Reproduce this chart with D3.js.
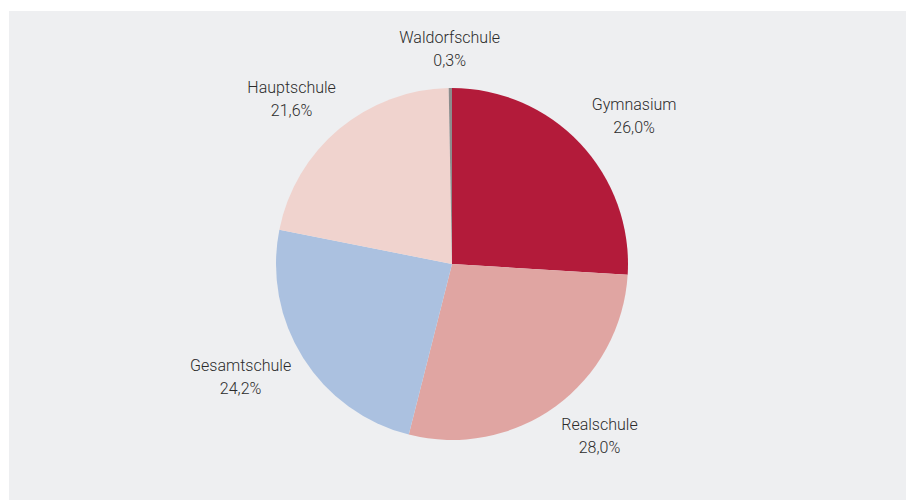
<!DOCTYPE html>
<html>
<head>
<meta charset="utf-8">
<script src="https://cdn.jsdelivr.net/npm/d3@7"></script>
<style>
  body { margin: 0; background: #fff; }
  text { font-family: Roboto, "Noto Sans", sans-serif; font-size: 16px; font-weight: 300; fill: #2b2b2b; }
</style>
</head>
<body>
<div id="content"></div>
<script>
// Schulformen, im Uhrzeigersinn ab 12 Uhr
const categories = ['Gymnasium', 'Realschule', 'Gesamtschule', 'Hauptschule', 'Waldorfschule'];
const shares = [26.0, 28.0, 24.2, 21.6, 0.3];
const colors = ['#b31b3a', '#e0a5a2', '#abc1e0', '#f0d3ce', '#8c8c8c'];

var width = 906;
var height = 500;
var cx = 452, cy = 264;
var radius = 176;

var fmt = d3.format('.1f');

var svg = d3.select('#content')
.append('svg')
.attr('width', width)
.attr('height', height);

svg.append('rect')
.attr('x', 9)
.attr('y', 11)
.attr('width', width - 9)
.attr('height', height - 11)
.attr('fill', '#eeeff1');

var data = categories.map(function (c, i) {return {name: c, value: shares[i], color: colors[i]}});

var pie = d3.pie()
.sort(null)
.value(function (d) {return d.value});

var arc = d3.arc()
.innerRadius(0)
.outerRadius(radius);

var g = svg.append('g')
.attr('transform', 'translate(' + cx + ',' + cy + ')');

var arcs = pie(data);

g.selectAll('path')
.data(arcs)
.enter()
.append('path')
.attr('d', arc)
.attr('fill', function (d) {return d.data.color});

// labels sit on an ellipse around the pie
var rx = 250, ry = 214;
function labelPos(d) {
    var a = (d.startAngle + d.endAngle) / 2;
    return [Math.sin(a) * rx, -Math.cos(a) * ry];
}

var labels = g.selectAll('.label')
.data(arcs)
.enter()
.append('text')
.attr('class', 'label')
.attr('text-anchor', 'middle')
.attr('transform', function (d) {return 'translate(' + labelPos(d) + ')'});

labels.append('tspan')
.attr('x', 0)
.attr('y', -7)
.text(function (d) {return d.data.name});

labels.append('tspan')
.attr('x', 0)
.attr('y', 16)
.text(function (d) {return fmt(d.data.value).replace('.', ',') + '%'});
</script>
</body>
</html>
